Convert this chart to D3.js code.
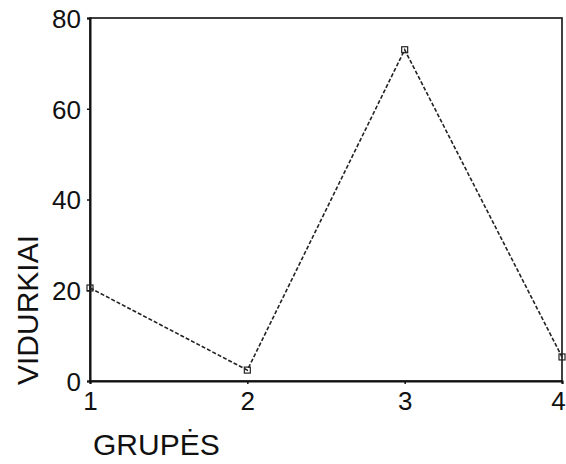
<!DOCTYPE html>
<html lang="lt">
<head>
<meta charset="UTF-8">
<title>Vidurkiai pagal grupes</title>
<script src="https://d3js.org/d3.v7.min.js"></script>
<style>
    body { margin: 0; background: #fff; }
    svg { display: block; font-family: 'Liberation Sans', Arial, sans-serif; }
    .tick text { fill: #111; }
</style>
</head>
<body>
<svg id="chart" width="566" height="464"></svg>
<script>
// duomenys
const grupes = [1, 2, 3, 4];
const vidurkiai = [20.5, 2.4, 73, 5.3];
const yTicks = [0, 20, 40, 60, 80];
const xTicks = [1, 2, 3, 4];

const width = 566, height = 464;
const margin = { top: 18, right: 4, bottom: 83, left: 90 };

const svg = d3.select("#chart");

const x = d3.scaleLinear().domain([1, 4]).range([margin.left, width - margin.right]);
const y = d3.scaleLinear().domain([0, 80]).range([height - margin.bottom, margin.top]);

// rėmas
svg.append("rect")
    .attr("x", x(1)).attr("y", y(80))
    .attr("width", x(4) - x(1)).attr("height", y(0) - y(80))
    .attr("fill", "none").attr("stroke", "#111").attr("stroke-width", 1.6);

// ašys
const yAxis = svg.append("g")
    .attr("transform", `translate(${x(1)},0)`)
    .call(d3.axisLeft(y).tickValues(yTicks).tickFormat(d3.format("d")).tickSize(3).tickPadding(6));
yAxis.selectAll("text").attr("font-size", 26).attr("dy", "0.36em");

const xAxis = svg.append("g")
    .attr("transform", `translate(0,${y(0)})`)
    .call(d3.axisBottom(x).tickValues(xTicks).tickFormat(d3.format("d")).tickSize(3).tickPadding(8));
xAxis.selectAll("text").attr("font-size", 26);
// paskutinė žymė prie pat krašto
xAxis.selectAll(".tick text").filter(d => d === 4).attr("dx", -4);

svg.selectAll(".domain").attr("stroke", "#111").attr("stroke-width", 2);
svg.selectAll(".tick line").attr("stroke", "#111").attr("stroke-width", 1.5);
svg.selectAll(".tick text").attr("font-family", "'Liberation Sans', Arial, sans-serif");

// linija
const line = d3.line().x((d, i) => x(grupes[i])).y(d => y(d));
svg.append("path")
    .datum(vidurkiai)
    .attr("d", line)
    .attr("fill", "none")
    .attr("stroke", "#222")
    .attr("stroke-width", 1.6)
    .attr("stroke-dasharray", "4,2");

// taškai
svg.selectAll(".marker")
    .data(vidurkiai)
    .enter().append("rect")
    .attr("class", "marker")
    .attr("x", (d, i) => x(grupes[i]) - 3)
    .attr("y", d => y(d) - 3)
    .attr("width", 6).attr("height", 6)
    .attr("fill", "none").attr("stroke", "#222").attr("stroke-width", 1.2);

// pavadinimai
svg.append("text")
    .attr("x", 93).attr("y", 455)
    .attr("font-size", 30)
    .attr("fill", "#111")
    .text("GRUPĖS");

svg.append("text")
    .attr("transform", "translate(38,385) rotate(-90)")
    .attr("font-size", 30)
    .attr("fill", "#111")
    .text("VIDURKIAI");
</script>
</body>
</html>
